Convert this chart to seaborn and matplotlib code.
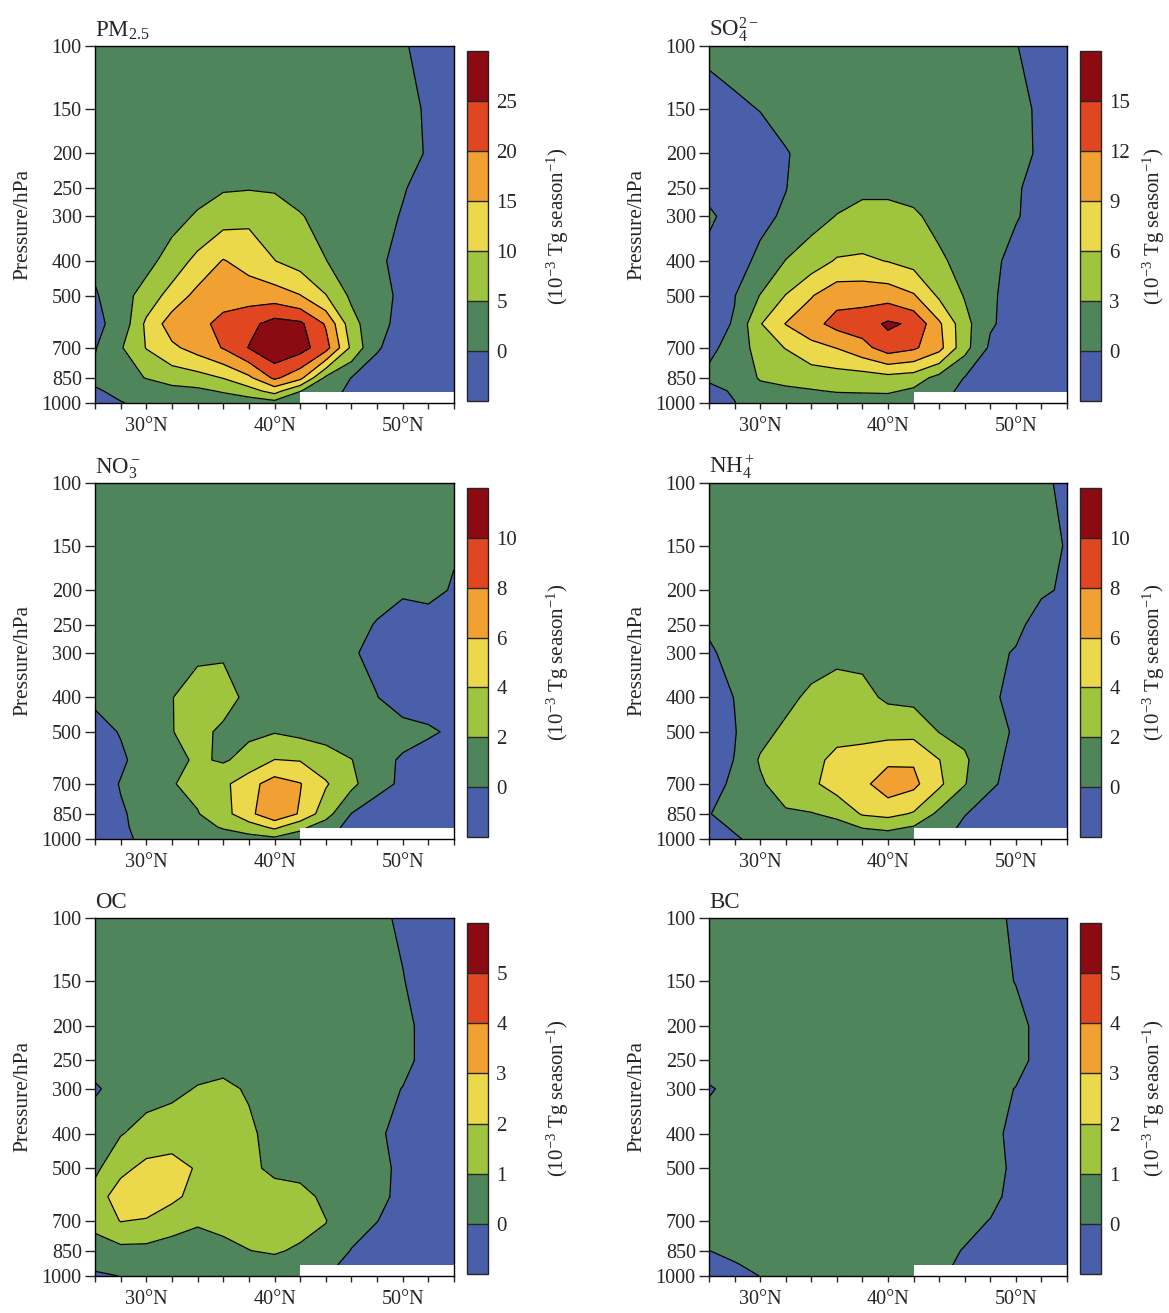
import numpy as np
import matplotlib
matplotlib.use("Agg")
import matplotlib.pyplot as plt
import seaborn as sns

sns.set_style("ticks")
plt.rcParams["font.family"] = ["Liberation Serif", "DejaVu Serif"]
plt.rcParams["mathtext.fontset"] = "custom"
plt.rcParams["mathtext.rm"] = "Liberation Serif"
plt.rcParams["mathtext.it"] = "Liberation Serif:italic"
plt.rcParams["mathtext.bf"] = "Liberation Serif:bold"
FS = 14.5

# grid
lat  = [26, 28, 30, 32, 34, 36, 38, 40, 42, 44, 46, 48, 50, 52, 54]
plev = [100, 150, 200, 250, 300, 400, 500, 600, 700, 850, 925, 1000]
pticks = [100, 150, 200, 250, 300, 400, 500, 700, 850, 1000]
mask_lat = [42, 54]; mask_top = 930

# fields (10^-3 Tg season^-1), rows = plev, cols = lat
pm25 = [
    [1, 1, 1, 1, 1, 1, 1, 1, 1, 1, 1, 1, 0.3, -1, -1],
    [1, 1, 1, 1.1, 1.3, 1.5, 1.6, 1.5, 1.3, 1.2, 1.1, 1, 1, -0.4, -1],
    [1, 1, 1.2, 1.5, 2, 2.5, 2.8, 2.6, 2, 1.6, 1.3, 1.2, 1, -0.25, -1],
    [1, 1, 1.5, 2.5, 3.5, 4.5, 4.7, 4.5, 3.5, 2.5, 1.5, 1, 0.2, -1, -1],
    [1, 1.5, 2, 3.5, 5.5, 8, 9, 7.5, 5.3, 3.5, 2, 1, -0.2, -1, -1],
    [1, 2, 3.5, 7, 11.5, 15.3, 13, 10.1, 8, 5.1, 3, 0.6, -1, -1, -1],
    [-0.5, 3, 7, 12, 16.5, 18, 18, 17.5, 15.2, 10.2, 4, 1, -0.6, -1, -1],
    [-1, 1.5, 11, 17.5, 18.5, 21.5, 23.5, 27, 26, 19.5, 7, 1, -1, -1, -1],
    [-0.3, 4.5, 10.2, 14, 17, 20.3, 25.2, 29, 27, 22, 9, 0.2, -1, -1, -1],
    [1, 3, 5.2, 7, 8, 10.2, 14, 21, 16.5, 4, -0.1, -1, -1, -1, -1],
    [-0.5, 1, 2, 3.5, 4, 5.5, 8, 12, 5.2, 2, -1, -1, -1, -1, -1],
    [-1, -0.2, 1, 1.2, 1.5, 2, 2, 3, 1, 0.5, -1, -1, -1, -1, -1],
]
so4 = [
    [0.5, 0.6, 0.5, 0.5, 0.5, 0.5, 0.5, 0.5, 0.5, 0.5, 0.5, 0.5, 0.1, -1, -1],
    [-1, -0.3, 0.05, 0.5, 0.6, 0.7, 0.7, 0.7, 0.6, 0.6, 0.6, 0.5, 0.5, -0.3, -1],
    [-1, -1, -0.8, -0.1, 0.5, 1, 1.2, 1.2, 1, 0.8, 0.7, 0.6, 0.6, -0.3, -1],
    [-0.5, -1, -0.8, -0.05, 1, 2, 2.5, 2.5, 2.2, 1.5, 1, 0.8, 0.3, -1, -1],
    [0.3, -0.7, -0.5, 0.3, 2, 3.1, 3.8, 3.8, 3.4, 2.2, 1.5, 1, 0.2, -1, -1],
    [-0.6, -0.9, 0.5, 3.1, 4.5, 6.3, 6.5, 5.9, 5, 3.5, 2, 0.8, -1, -1, -1],
    [-1, -0.1, 3.1, 6.1, 8.8, 11, 11, 10.8, 9.3, 5.5, 2.8, 0.4, -1, -1, -1],
    [-1, 0.2, 5.8, 9.1, 11, 13, 13.5, 15.5, 14.5, 9.5, 4, 0.3, -1, -1, -1],
    [-0.3, 0.5, 4.7, 6.1, 8, 9.1, 11, 13.5, 12.5, 10, 4, -0.5, -1, -1, -1],
    [0.3, 1.5, 3.2, 3.8, 4.3, 4.5, 4.5, 5, 4.5, 2, -0.1, -1, -1, -1, -1],
    [-0.5, 0.2, 2.3, 2.5, 2.8, 3.2, 3.3, 3.4, 2.5, 1.5, -1, -1, -1, -1, -1],
    [-1, -0.05, 1, 1.2, 1.3, 1.5, 1.5, 1.5, 1, 0.5, -1, -1, -1, -1, -1],
]
no3 = [
    [0.5, 0.5, 0.5, 0.5, 0.5, 0.5, 0.5, 0.5, 0.5, 0.5, 0.5, 0.5, 0.5, 0.5, 0.5],
    [0.5, 0.5, 0.5, 0.5, 0.5, 0.5, 0.5, 0.5, 0.5, 0.5, 0.5, 0.5, 0.5, 0.5, 0.2],
    [0.5, 0.5, 0.5, 0.6, 0.7, 0.7, 0.7, 0.6, 0.6, 0.5, 0.5, 0.5, 0.3, 0.6, -0.2],
    [0.5, 0.6, 0.7, 0.8, 1, 1, 1, 0.9, 0.8, 0.6, 0.5, -0.1, -1, -1, -1],
    [0.5, 0.6, 0.8, 1.2, 1.7, 1.8, 1.2, 1, 0.8, 0.6, 0.2, -0.5, -1, -1, -1],
    [0.3, 0.6, 0.8, 1.95, 2.8, 2.8, 1.5, 1.2, 1, 0.7, 0.4, 0.05, -1, -1, -1],
    [-0.6, 0.1, 1.2, 1.95, 2.6, 1.6, 1.7, 1.9, 1.5, 1.2, 1, 0.6, 0.8, 0.3, -0.35],
    [-1, -0.3, 0.8, 1.5, 2.25, 1.8, 2.6, 4.05, 3.9, 3, 2.05, 0.8, -0.3, -1, -1],
    [-1, 0.1, 1.2, 1.9, 2.5, 3.5, 5.3, 6.9, 6.1, 4.2, 2.5, 0.6, -0.3, -1, -1],
    [-1, -0.2, 0.6, 1.2, 1.9, 3.2, 5.5, 7.5, 5.8, 2.8, -0.05, -1, -1, -1, -1],
    [-1, -0.3, 0.6, 0.9, 1.3, 2.2, 3, 4.5, 2.5, 1, -0.7, -1, -1, -1, -1],
    [-1, -0.3, 0.3, 0.8, 0.8, 1, 1.3, 1.5, 1, 0.5, -1, -1, -1, -1, -1],
]
nh4 = [
    [0.5, 0.5, 0.5, 0.5, 0.5, 0.5, 0.5, 0.5, 0.5, 0.5, 0.5, 0.5, 0.5, 0.3, -0.35],
    [0.5, 0.6, 0.7, 0.8, 0.8, 0.9, 0.9, 0.8, 0.8, 0.7, 0.6, 0.6, 0.6, 0.5, -0.1],
    [0.5, 0.7, 0.8, 0.9, 1, 1.1, 1.1, 1, 1, 0.9, 0.8, 0.7, 0.6, 0.3, -0.3],
    [0.3, 0.7, 0.9, 1, 1.1, 1.3, 1.3, 1.2, 1.1, 1, 0.9, 0.8, 0.6, -1, -1],
    [-0.3, 0.7, 1, 1.1, 1.2, 1.6, 1.6, 1.4, 1.2, 1.1, 1, 0.6, -0.2, -1, -1],
    [-1, 0.05, 0.8, 1.5, 2.4, 2.8, 2.5, 1.7, 1.5, 1.3, 1, 0.3, -0.5, -1, -1],
    [-1, -0.1, 1.4, 2.4, 2.7, 3.1, 3.3, 3.4, 3.4, 1.95, 1.5, 0.6, -0.2, -1, -1],
    [-1, 0.05, 2.2, 2.8, 3.1, 4.8, 5, 5.6, 5.8, 4.05, 2.3, 0.5, -0.5, -1, -1],
    [-0.8, 0.4, 1.7, 3.1, 3.6, 4.9, 5.5, 7.1, 6.5, 4.4, 2.1, 0.3, -0.7, -1, -1],
    [-0.1, 1, 1.3, 1.7, 1.9, 2.4, 4.2, 4.6, 3.8, 1.5, 0.1, -1, -1, -1, -1],
    [-0.5, 0.2, 0.8, 1, 1.2, 1.4, 2.1, 2.4, 1.9, 1.2, -0.5, -1, -1, -1, -1],
    [-1, -0.2, 0.5, 0.7, 0.8, 1.1, 1.1, 1.1, 1.1, 0.5, -1, -1, -1, -1, -1],
]
oc = [
    [0.4, 0.4, 0.4, 0.4, 0.4, 0.4, 0.4, 0.4, 0.4, 0.4, 0.4, 0.4, -0.3, -1, -1],
    [0.5, 0.5, 0.5, 0.5, 0.5, 0.5, 0.5, 0.5, 0.5, 0.5, 0.5, 0.5, 0.1, -1, -1],
    [0.5, 0.5, 0.5, 0.6, 0.6, 0.6, 0.6, 0.6, 0.6, 0.6, 0.5, 0.5, 0.5, -0.6, -1],
    [0.3, 0.5, 0.6, 0.7, 0.7, 0.7, 0.7, 0.6, 0.6, 0.6, 0.5, 0.5, 0.5, -0.6, -1],
    [-0.1, 0.3, 0.7, 0.8, 1.05, 1.2, 0.9, 0.6, 0.6, 0.6, 0.6, 0.6, -0.05, -1, -1],
    [0.5, 0.95, 1.3, 1.5, 1.5, 1.5, 1.2, 0.6, 0.6, 0.6, 0.6, 0.3, -0.6, -1, -1],
    [0.8, 1.7, 2.3, 2.4, 1.9, 1.6, 1.2, 0.8, 0.7, 0.6, 0.6, 0.5, -0.4, -1, -1],
    [1.4, 2.6, 2.9, 2.2, 1.7, 1.5, 1.4, 1.4, 1.3, 0.8, 0.6, 0.5, -0.5, -1, -1],
    [1.2, 2.05, 1.9, 1.5, 1.1, 1.3, 1.4, 1.5, 1.5, 1.02, 0.5, 0.05, -1, -1, -1],
    [0.7, 0.7, 0.7, 0.5, 0.6, 0.7, 0.98, 1.15, 0.8, 0.8, -0.05, -1, -1, -1, -1],
    [0.3, 0.5, 0.5, 0.5, 0.5, 0.6, 0.7, 0.6, 0.6, 0.5, -0.5, -1, -1, -1, -1],
    [-0.2, 0.02, 0.3, 0.3, 0.3, 0.4, 0.5, 0.5, 0.4, 0.3, -1, -1, -1, -1, -1],
]
bc = [
    [0.5, 0.5, 0.5, 0.5, 0.5, 0.5, 0.5, 0.5, 0.5, 0.5, 0.5, 0.5, -0.3, -1, -1],
    [0.5, 0.5, 0.5, 0.5, 0.5, 0.5, 0.5, 0.5, 0.5, 0.5, 0.5, 0.5, -0.05, -1, -1],
    [0.5, 0.5, 0.5, 0.5, 0.5, 0.5, 0.5, 0.5, 0.5, 0.5, 0.5, 0.5, 0.5, -0.5, -1],
    [0.5, 0.5, 0.5, 0.5, 0.5, 0.5, 0.5, 0.5, 0.5, 0.5, 0.5, 0.5, 0.5, -0.5, -1],
    [-0.1, 0.3, 0.5, 0.5, 0.5, 0.5, 0.5, 0.5, 0.5, 0.5, 0.5, 0.5, -0.05, -1, -1],
    [0.5, 0.5, 0.5, 0.5, 0.5, 0.5, 0.5, 0.5, 0.5, 0.5, 0.5, 0.5, -0.5, -1, -1],
    [0.5, 0.5, 0.5, 0.5, 0.5, 0.5, 0.5, 0.5, 0.5, 0.5, 0.5, 0.5, -0.3, -1, -1],
    [0.5, 0.5, 0.5, 0.5, 0.5, 0.5, 0.5, 0.5, 0.5, 0.5, 0.5, 0.5, -0.6, -1, -1],
    [0.3, 0.5, 0.5, 0.5, 0.5, 0.5, 0.5, 0.5, 0.5, 0.5, 0.5, -0.05, -1, -1, -1],
    [-0.02, 0.5, 0.5, 0.5, 0.5, 0.5, 0.5, 0.5, 0.5, 0.5, -0.1, -1, -1, -1, -1],
    [-0.3, -0.1, 0.5, 0.5, 0.5, 0.5, 0.5, 0.5, 0.5, 0.5, -0.4, -1, -1, -1, -1],
    [-1, -0.5, 0.02, 0.3, 0.3, 0.3, 0.3, 0.3, 0.3, 0.3, -1, -1, -1, -1, -1],
]

titles = [r"PM$_{2.5}$", r"SO$_4^{2-}$", r"NO$_3^-$", r"NH$_4^+$", "OC", "BC"]
fields = [pm25, so4, no3, nh4, oc, bc]
clevs = [[0, 5, 10, 15, 20, 25], [0, 3, 6, 9, 12, 15],
         [0, 2, 4, 6, 8, 10], [0, 2, 4, 6, 8, 10],
         [0, 1, 2, 3, 4, 5], [0, 1, 2, 3, 4, 5]]
COLORS = ["#4a5fa9", "#4f855a", "#9fc43e", "#ebd84b", "#f0a131", "#e0461f", "#8c0a12"]
cblabel = r"(10$^{-3}$ Tg season$^{-1}$)"

W, H = 1169, 1313
fig = plt.figure(figsize=(W / 100, H / 100), dpi=100)
rows_px = [(46, 403), (483, 839), (918, 1276)]
cols_px = [(95, 454), (709, 1067)]
cb_w = 21
cb_lab_x = [78, 61]   # colour-bar label left edge, px from bar's left edge

for k, (z, lv, title) in enumerate(zip(fields, clevs, titles)):
    r, c = divmod(k, 2)
    (y0, y1), (x0, x1) = rows_px[r], cols_px[c]
    ax = fig.add_axes([x0 / W, 1 - y1 / H, (x1 - x0) / W, (y1 - y0) / H])
    z = np.array(z)
    bounds = [-1000] + lv + [1000]
    cf = ax.contourf(lat, plev, z, levels=bounds, colors=COLORS)
    ax.contour(lat, plev, z, levels=lv, colors="k", linewidths=0.9)
    ax.fill_between(mask_lat, mask_top, 1000, color="white", zorder=3, lw=0)

    ax.set_yscale("log")
    ax.set_ylim(1000, 100)
    ax.set_yticks(pticks)
    ax.set_yticklabels([str(p) for p in pticks])
    ax.yaxis.set_minor_locator(matplotlib.ticker.NullLocator())
    ax.set_xlim(26, 54)
    ax.set_xticks([30, 40, 50])
    ax.set_xticklabels(["30°N", "40°N", "50°N"])
    ax.set_xticks(lat, minor=True)
    ax.tick_params(axis="y", which="major", direction="out", length=7.5, width=1,
                   labelsize=FS, pad=2)
    ax.tick_params(axis="x", which="both", direction="out", length=4, width=1,
                   labelsize=FS, pad=6)
    for s in ax.spines.values():
        s.set_linewidth(1); s.set_color("k"); s.set_zorder(5)
    ax.set_ylabel("Pressure/hPa", fontsize=15.5, labelpad=7)
    ax.annotate(title, xy=(0, 1), xycoords="axes fraction", xytext=(0, 7),
                textcoords="offset points", fontsize=16.5, va="baseline", ha="left")

    cax = fig.add_axes([(x1 + 13) / W, 1 - (y1 - 2) / H, cb_w / W, (y1 - y0 - 7) / H])
    cb = fig.colorbar(cf, cax=cax, ticks=lv, drawedges=True)
    cb.outline.set_linewidth(1)
    cb.dividers.set_linewidth(1)
    cax.tick_params(length=0, labelsize=15, pad=6)
    cax.set_yticklabels([str(v) for v in lv])
    cb.set_label(cblabel, fontsize=15)
    cax.yaxis.set_label_coords(cb_lab_x[c] / cb_w, 0.5)

fig.savefig("out.png", dpi=100)
